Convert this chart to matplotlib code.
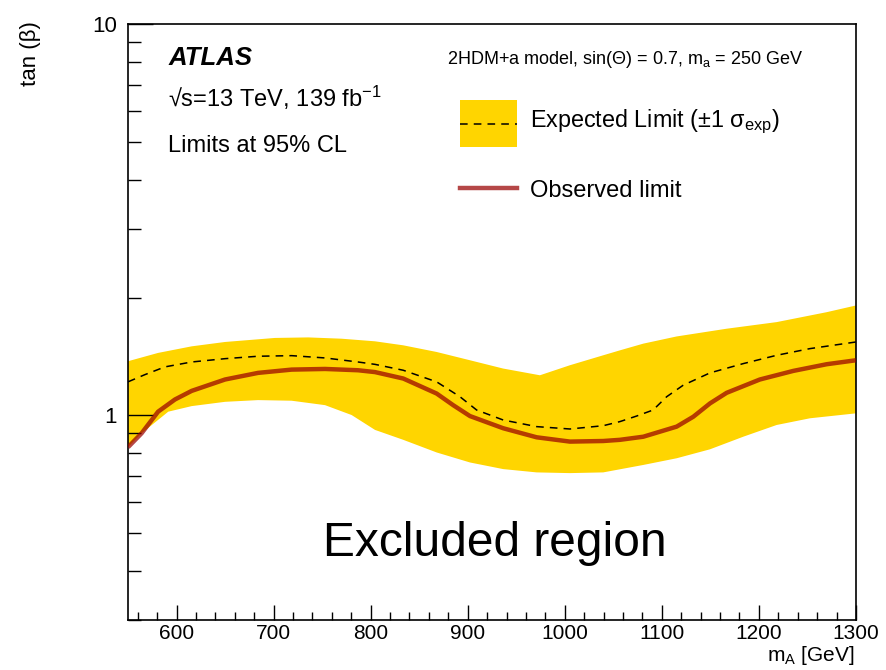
import matplotlib
matplotlib.use("Agg")
import matplotlib.pyplot as plt
import numpy as np
from matplotlib.patches import Rectangle
from matplotlib.lines import Line2D
from matplotlib.ticker import FixedLocator, NullFormatter, MultipleLocator

plt.rcParams['font.family'] = ['Liberation Sans', 'DejaVu Sans']
plt.rcParams['mathtext.fontset'] = 'custom'
plt.rcParams['mathtext.rm'] = 'Liberation Sans'
plt.rcParams['mathtext.it'] = 'Liberation Sans:italic'
plt.rcParams['mathtext.bf'] = 'Liberation Sans:bold'

# ---- data ----
exp_mA = [550, 567.5, 588, 615.6, 650, 684, 718.6, 753, 787, 804.5, 833.6, 868, 892,
          909.2, 936.6, 971, 1005.3, 1039.6, 1056.8, 1074, 1091, 1105, 1122, 1149.6,
          1183.9, 1218.3, 1252.6, 1300]
exp_tb = [1.218, 1.271, 1.330, 1.369, 1.396, 1.416, 1.421, 1.402, 1.369, 1.350, 1.304,
          1.218, 1.116, 1.032, 0.973, 0.936, 0.923, 0.941, 0.964, 0.996, 1.032, 1.116,
          1.194, 1.284, 1.356, 1.424, 1.481, 1.54]

obs_mA = [550, 564, 581, 598.4, 615.6, 650, 684, 718.6, 753, 787, 804.5, 833.6, 868,
          885, 902.3, 936.6, 971, 1005.3, 1039.6, 1056.8, 1080.9, 1115.3, 1132.4,
          1149.6, 1166.8, 1201, 1235.4, 1269.8, 1300]
obs_tb = [0.829, 0.900, 1.022, 1.098, 1.155, 1.235, 1.284, 1.309, 1.314, 1.304, 1.290,
          1.242, 1.137, 1.062, 0.996, 0.927, 0.879, 0.857, 0.860, 0.866, 0.882, 0.936,
          0.992, 1.073, 1.142, 1.235, 1.299, 1.351, 1.383]

up_mA = [550, 581, 615.6, 650, 701.4, 735.7, 770, 804.5, 833.6, 868, 902.3, 936.6,
         974.4, 1005.3, 1039.6, 1056.8, 1080.9, 1115.3, 1166.8, 1218.3, 1269.8, 1300]
up_tb = [1.375, 1.444, 1.501, 1.540, 1.577, 1.582, 1.570, 1.546, 1.510, 1.452, 1.383,
         1.317, 1.266, 1.343, 1.424, 1.466, 1.525, 1.591, 1.665, 1.731, 1.835, 1.909]

lo_mA = [550, 564, 591.5, 615.6, 650, 684, 718.6, 753, 780.4, 804.5, 833.6, 868,
         902.3, 936.6, 971, 1005.3, 1039.6, 1080.9, 1115.3, 1149.6, 1183.9, 1218.3,
         1252.6, 1300]
lo_tb = [0.829, 0.900, 1.022, 1.056, 1.083, 1.094, 1.090, 1.062, 1.002, 0.918, 0.866,
         0.804, 0.758, 0.729, 0.715, 0.712, 0.715, 0.747, 0.777, 0.819, 0.882, 0.945,
         0.983, 1.012]

x_major = [600, 700, 800, 900, 1000, 1100, 1200, 1300]
y_major = [1, 10]
y_major_labels = ['1', '10']

# ---- figure ----
fig = plt.figure(figsize=(8.87, 6.70), dpi=100)
ax = fig.add_axes([0.1443, 0.0746, 0.8207, 0.8896])

band_x = np.concatenate([up_mA, lo_mA[::-1]])
band_y = np.concatenate([up_tb, lo_tb[::-1]])
ax.fill(band_x, band_y, color='#ffd500', lw=0, zorder=1)
ax.plot(exp_mA, exp_tb, color='black', ls=(0, (5, 4)), lw=1.1, zorder=2)
ax.plot(obs_mA, obs_tb, color='#990000', alpha=0.72, lw=3.2, zorder=3,
        solid_capstyle='butt', solid_joinstyle='round')

ax.set_yscale('log')
ax.set_xlim(550, 1300)
ax.set_ylim(0.3, 10)

ax.yaxis.set_major_locator(FixedLocator(y_major))
ax.set_yticklabels(y_major_labels)
ax.yaxis.set_minor_locator(FixedLocator([0.3, 0.4, 0.5, 0.6, 0.7, 0.8, 0.9,
                                         2, 3, 4, 5, 6, 7, 8, 9]))
ax.yaxis.set_minor_formatter(NullFormatter())
ax.xaxis.set_major_locator(FixedLocator(x_major))
ax.xaxis.set_minor_locator(MultipleLocator(20))

ax.tick_params(axis='y', which='major', direction='in', length=18, width=1,
               labelsize=16, left=True, right=False, pad=8)
ax.tick_params(axis='y', which='minor', direction='in', length=9, width=1,
               left=True, right=False)
ax.tick_params(axis='x', which='major', direction='in', length=11, width=1,
               labelsize=15, top=False, bottom=True, pad=3)
ax.tick_params(axis='x', which='minor', direction='in', length=5.5, width=1,
               top=False, bottom=True)
for s in ax.spines.values():
    s.set_linewidth(1.2)

fig.text(0.963, 0.004, r'm$_{\mathrm{A}}$ [GeV]', ha='right', va='bottom', fontsize=15)
fig.text(0.034, 0.968, 'tan (β)', ha='center', va='top', rotation=90, fontsize=16)

# ---- annotations ----
T = ax.transAxes
ax.text(0.055, 0.943, 'ATLAS', transform=T, fontsize=18.5, fontweight='bold',
        style='italic', va='center')
ax.text(0.055, 0.876, '√s=13 TeV, 139 fb$^{\\mathrm{-1}}$', transform=T,
        fontsize=17, va='center')
ax.text(0.055, 0.795, 'Limits at 95% CL', transform=T, fontsize=17, va='center')
ax.text(0.438, 0.94, r'2HDM+a model, sin($\Theta$) = 0.7, m$_{\mathrm{a}}$ = 250 GeV',
        transform=T, fontsize=13, va='center')

ax.add_patch(Rectangle((0.456, 0.7936), 0.078, 0.0789, transform=T,
                       facecolor='#ffd500', edgecolor='none', zorder=5))
ax.add_line(Line2D([0.456, 0.534], [0.833, 0.833], transform=T, color='black',
                   ls=(0, (5, 4)), lw=1.1, zorder=6))
ax.add_line(Line2D([0.456, 0.534], [0.7248, 0.7248], transform=T, color='#990000',
                   alpha=0.72, lw=3.2, zorder=6))
ax.text(0.552, 0.836, 'Expected Limit (±1 σ$_{\\mathrm{exp}}$)', transform=T,
        fontsize=16.8, va='center')
ax.text(0.552, 0.72, 'Observed limit', transform=T, fontsize=17, va='center')

ax.text(0.504, 0.129, 'Excluded region', transform=T, fontsize=34.5, ha='center',
        va='center')

fig.savefig('out.png', dpi=100)
